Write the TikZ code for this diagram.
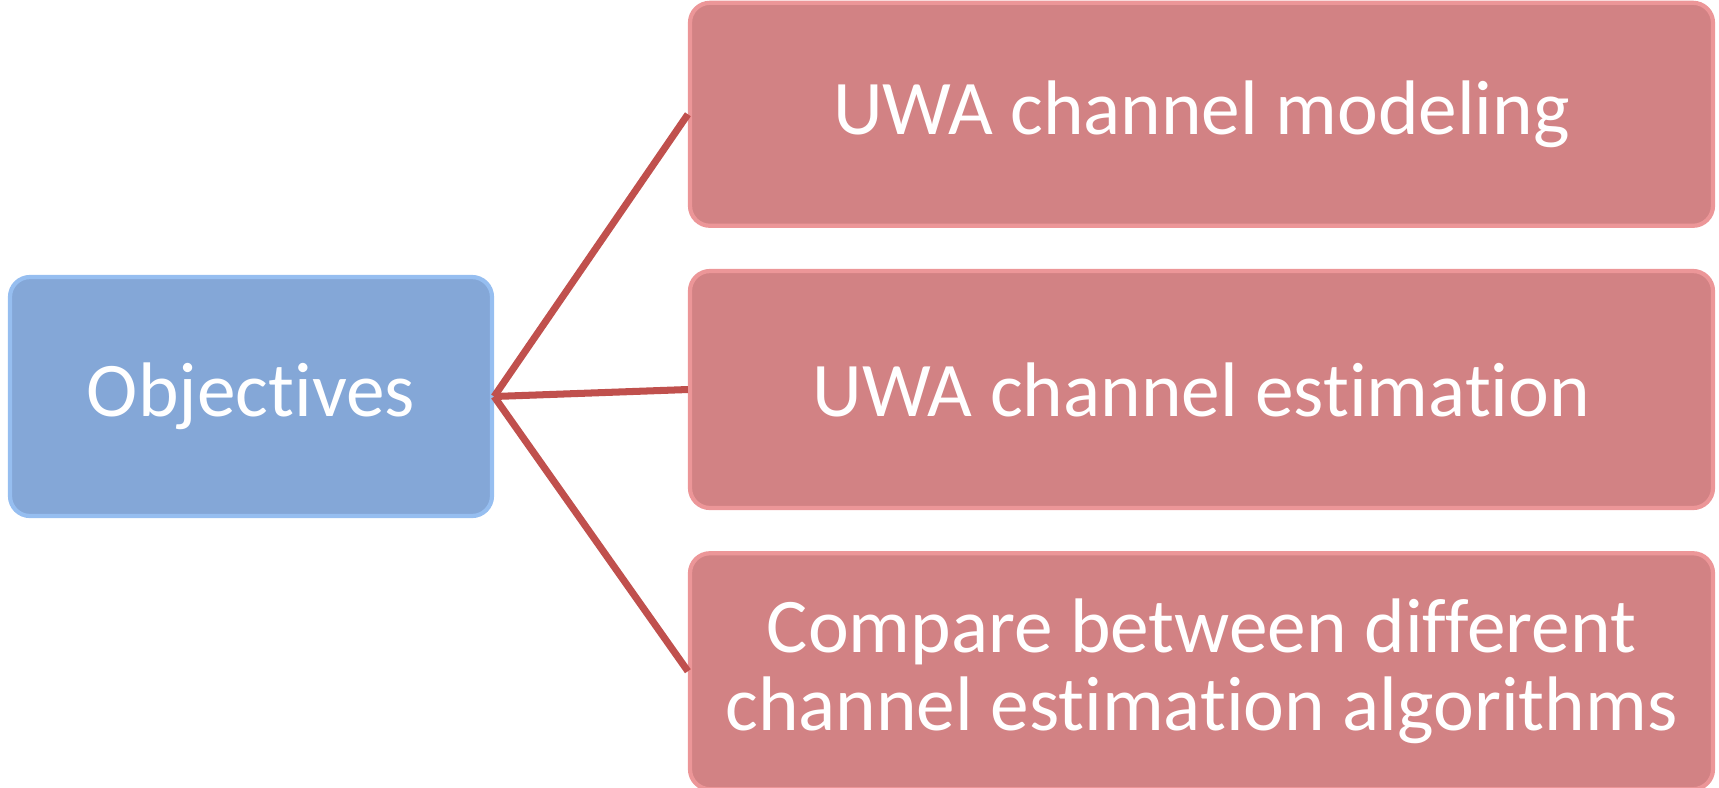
\documentclass[tikz,border=0pt]{standalone}
\usepackage{fontspec}
\setmainfont{Carlito}[Ligatures=NoCommon]
\usepackage{tikz}
\usetikzlibrary{positioning}

\definecolor{objfill}{RGB}{132,167,215}
\definecolor{objrim}{RGB}{150,190,240}
\definecolor{topicfill}{RGB}{210,130,132}
\definecolor{topicrim}{RGB}{236,150,152}
\definecolor{linkred}{RGB}{192,80,77}

\begin{document}
\begin{tikzpicture}[
  font=\fontsize{22}{22}\selectfont,
  node distance=0.41cm and 1.9cm,
  rootbox/.style={fill=objfill, draw=objrim, line width=1.2pt, rounded corners=2mm,
    text=white, align=center, minimum width=4.82cm, minimum height=2.39cm},
  topicbox/.style={fill=topicfill, draw=topicrim, line width=1.2pt, rounded corners=2mm,
    text=white, align=center, minimum width=10.23cm, minimum height=2.3cm},
  link/.style={draw=linkred, line width=2pt},
]
  \useasboundingbox (0,0) rectangle (17.19,-7.87);

  \node[rootbox] (obj) at (2.51,-3.965) {Objectives};

  \node[topicbox, minimum height=2.37cm] (est) at (12.015,-3.895) {UWA channel estimation};
  \node[topicbox, minimum height=2.23cm, above=of est] (model) {UWA channel modeling};
  \node[topicbox, minimum height=2.36cm, below=of est] (cmp) {Compare between different\\channel estimation algorithms};

  % fan out from the root box
  \foreach \t in {model, est, cmp}
    \draw[link] (obj.east) -- (\t.west);
\end{tikzpicture}
\end{document}
